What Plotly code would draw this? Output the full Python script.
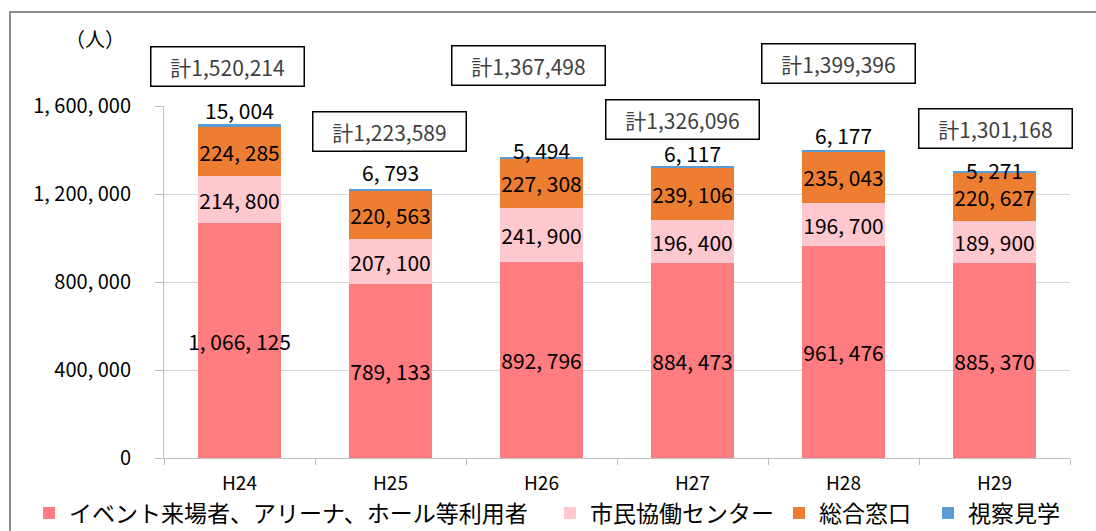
import plotly.graph_objects as go

# 年度別・区分別の人数（人）
years = ["H24", "H25", "H26", "H27", "H28", "H29"]
event_users = [1066125, 789133, 892796, 884473, 961476, 885370]
civic_center = [214800, 207100, 241900, 196400, 196700, 189900]
general_counter = [224285, 220563, 227308, 239106, 235043, 220627]
inspection = [15004, 6793, 5494, 6117, 6177, 5271]

series_names = ["イベント来場者、アリーナ、ホール等利用者", "市民協働センター", "総合窓口", "視察見学"]
y_tick_values = [0, 400000, 800000, 1200000, 1600000]

totals = [a + b + c + d for a, b, c, d in zip(event_users, civic_center, general_counter, inspection)]

FONT = "Noto Sans CJK JP"
W, H = 1096, 531
M_L, M_R, M_T, M_B = 164, 26, 106, 73
PLOT_H = H - M_T - M_B
PLOT_W = W - M_L - M_R


def fmt_label(v):
    return f"{v:,}".replace(",", ", ")


def px_to_paper_y(py):
    return (H - M_B - py) / PLOT_H


def px_to_paper_x(px):
    return (px - M_L) / PLOT_W


colors = ["#FF7C80", "#FFC7CE", "#ED7D31", "#5B9BD5"]
values = [event_users, civic_center, general_counter, inspection]
legend_ids = ["legend", "legend2", "legend3", "legend4"]
legend_left_px = [29, 550, 779, 928]

fig = go.Figure()
for i, (name, vals, col) in enumerate(zip(series_names, values, colors)):
    show_text = i < 3
    fig.add_trace(go.Bar(
        x=years, y=vals, name=name,
        marker=dict(color=col, line=dict(width=0)),
        text=[fmt_label(v) for v in vals] if show_text else None,
        textposition="inside" if show_text else "none",
        insidetextanchor="middle",
        textangle=0,
        constraintext="none",
        textfont=dict(family=FONT, size=21, color="#000000"),
        hoverinfo="x+y+name",
        legend=legend_ids[i],
    ))

annotations = []

# 視察見学の値（棒の上）
visit_shift = [14, 17, 7, 13, 15, 2]
for yr, tot, v, s in zip(years, totals, inspection, visit_shift):
    annotations.append(dict(
        x=yr, y=tot, xref="x", yref="y", text=fmt_label(v), showarrow=False,
        yanchor="middle", yshift=s,
        font=dict(family=FONT, size=21, color="#000000"),
    ))

# 合計の囲みラベル
box_dx = [-12, -1, -13, -10, -5, 1]
box_py = [67, 131, 65, 119, 63, 128]
for yr, tot, dx, py in zip(years, totals, box_dx, box_py):
    annotations.append(dict(
        x=yr, xref="x", xshift=dx, y=px_to_paper_y(py), yref="paper",
        text=f"計{tot:,}", showarrow=False, yanchor="middle",
        width=148, height=34, borderpad=2, bgcolor="#ffffff",
        bordercolor="#000000", borderwidth=1.5,
        font=dict(family=FONT, size=21, color="#404040"),
    ))

# 単位
annotations.append(dict(
    x=px_to_paper_x(95), y=px_to_paper_y(38), xref="paper", yref="paper",
    text="（人）", showarrow=False, xanchor="center", yanchor="middle",
    font=dict(family=FONT, size=20, color="#000000"),
))

# 外枠
shapes = [dict(
    type="rect", xref="paper", yref="paper",
    x0=px_to_paper_x(10), x1=px_to_paper_x(1110),
    y0=px_to_paper_y(545), y1=px_to_paper_y(12),
    line=dict(color="#8c8c8c", width=2), fillcolor="rgba(0,0,0,0)", layer="below",
)]

legend_style = dict(
    orientation="h", xref="container", yref="container",
    xanchor="left", y=1 - 513 / H, yanchor="middle",
    font=dict(family=FONT, size=23, color="#000000"),
    itemwidth=30, bgcolor="rgba(0,0,0,0)", borderwidth=0,
    itemclick=False, itemdoubleclick=False,
)
legend_layout = {lid: dict(legend_style, x=lx / W) for lid, lx in zip(legend_ids, legend_left_px)}

fig.update_layout(
    width=W, height=H,
    margin=dict(l=M_L, r=M_R, t=M_T, b=M_B, autoexpand=False),
    paper_bgcolor="#ffffff", plot_bgcolor="#ffffff",
    barmode="stack", bargap=0.45,
    font=dict(family=FONT, color="#000000"),
    showlegend=True,
    xaxis=dict(
        type="category", range=[-0.5, len(years) - 0.5], autorange=False,
        showgrid=False, showline=True, linecolor="#bfbfbf", linewidth=1,
        ticks="outside", tickson="boundaries", ticklen=6, tickcolor="#bfbfbf",
        tickfont=dict(family=FONT, size=19, color="#000000"),
        ticklabelstandoff=8,
    ),
    yaxis=dict(
        range=[0, 1600000], autorange=False, tickvals=y_tick_values,
        ticktext=[fmt_label(v) for v in y_tick_values],
        showgrid=True, gridcolor="#d9d9d9", gridwidth=1,
        showline=True, linecolor="#bfbfbf", linewidth=1,
        ticks="outside", ticklen=8, tickcolor="#bfbfbf",
        tickfont=dict(family=FONT, size=20, color="#000000"),
        ticklabelstandoff=20, zeroline=False,
    ),
    annotations=annotations,
    shapes=shapes,
    **legend_layout,
)

fig.write_html("out.html")
